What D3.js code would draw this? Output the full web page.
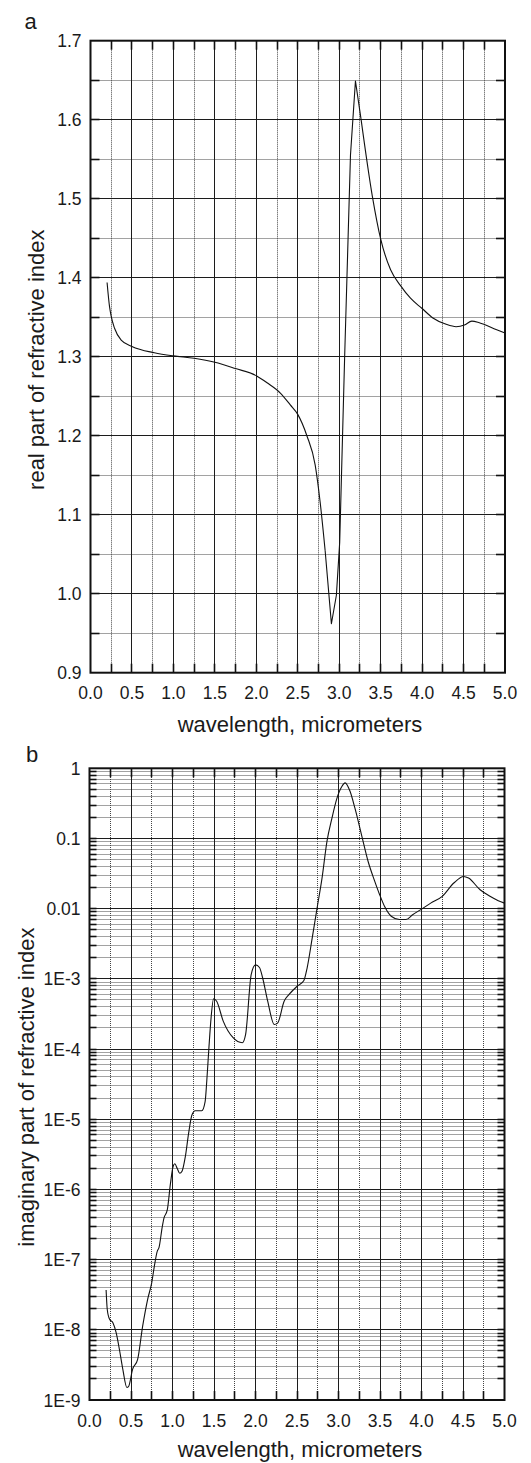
<!DOCTYPE html>
<html><head><meta charset="utf-8">
<script src="https://cdn.jsdelivr.net/npm/d3@7"></script>
<style>
body{margin:0;background:#fff}
svg{display:block}
text{font-family:"Liberation Sans",Arial,Helvetica,sans-serif;fill:#1a1a1a}
</style>
</head><body>
<svg id="c" width="531" height="1463"></svg>
<script>
// ---------- data ----------
const wavelengthTicks = [0,0.5,1,1.5,2,2.5,3,3.5,4,4.5,5];
const wavelengthTickLabels = ["0.0","0.5","1.0","1.5","2.0","2.5","3.0","3.5","4.0","4.5","5.0"];
const realTicks = [0.9,1.0,1.1,1.2,1.3,1.4,1.5,1.6,1.7];
const realTickLabels = ["0.9","1.0","1.1","1.2","1.3","1.4","1.5","1.6","1.7"];
const imagTicks = [1e-9,1e-8,1e-7,1e-6,1e-5,1e-4,1e-3,1e-2,1e-1,1];
const imagTickLabels = ["1E-9","1E-8","1E-7","1E-6","1E-5","1E-4","1E-3","0.01","0.1","1"];

const realWavelength = [0.2,0.23,0.25,0.29,0.37,0.5,0.77,1.0,1.25,1.5,1.75,2.0,2.13,2.29,2.41,2.5,2.61,2.71,2.77,2.83,2.906,2.966,3.006,3.065,3.136,3.196,3.263,3.40,3.5,3.62,3.74,3.86,4.0,4.13,4.29,4.41,4.51,4.6,4.69,4.9,5.0];
const realIndex = [1.394,1.363,1.351,1.336,1.321,1.313,1.305,1.301,1.298,1.293,1.285,1.276,1.267,1.254,1.239,1.227,1.200,1.163,1.116,1.055,0.962,0.998,1.065,1.297,1.555,1.649,1.601,1.503,1.449,1.410,1.390,1.374,1.361,1.349,1.341,1.338,1.340,1.345,1.343,1.334,1.330];
// the absorption band (2.83–3.26 µm) is drawn as straight segments, like the reference
const realSharpFrom = 2.83, realSharpTo = 3.263;

const imagWavelength = [0.2,0.214,0.242,0.282,0.321,0.361,0.401,0.45,0.47,0.52,0.58,0.64,0.70,0.75,0.78,0.817,0.837,0.877,0.897,0.937,0.976,1.008,1.028,1.056,1.087,1.115,1.155,1.194,1.234,1.274,1.353,1.393,1.413,1.44,1.465,1.495,1.532,1.611,1.73,1.841,1.881,1.948,2.0,2.048,2.087,2.147,2.226,2.266,2.345,2.405,2.504,2.583,2.623,2.683,2.742,2.802,2.861,2.921,2.98,3.04,3.079,3.139,3.198,3.278,3.357,3.437,3.496,3.556,3.635,3.734,3.813,3.893,3.992,4.111,4.25,4.389,4.508,4.567,4.706,4.825,4.925,5.0];
const imagIndex = [3.7e-8,1.95e-8,1.41e-8,1.26e-8,9.1e-9,5.2e-9,2.75e-9,1.51e-9,1.55e-9,2.75e-9,3.8e-9,1.12e-8,2.7e-8,4.7e-8,7.9e-8,1.32e-7,1.48e-7,2.95e-7,3.9e-7,5.1e-7,1.23e-6,2.14e-6,2.32e-6,2.0e-6,1.7e-6,1.82e-6,2.95e-6,6.3e-6,1.15e-5,1.32e-5,1.32e-5,1.78e-5,3.5e-5,1.1e-4,2.8e-4,5.2e-4,4.8e-4,2.5e-4,1.45e-4,1.23e-4,1.62e-4,1.15e-3,1.58e-3,1.45e-3,1.02e-3,4.8e-4,2.24e-4,2.34e-4,4.8e-4,6.0e-4,7.9e-4,9.5e-4,1.45e-3,3.8e-3,1.02e-2,2.75e-2,9.1e-2,0.195,0.37,0.55,0.62,0.47,0.27,0.112,0.047,0.0245,0.0158,0.0107,0.0078,0.007,0.007,0.0082,0.0097,0.012,0.015,0.0232,0.0288,0.0273,0.0186,0.015,0.013,0.012];

// ---------- drawing ----------
const svg = d3.select("#c");
const GRID = "#1c1c1c", MINOR = "#444", FRAME = "#111";
const snap = v => Math.round(v - 0.5) + 0.5;

function panel(o){
  const g = svg.append("g");
  const x = o.x, y = o.y;
  const [x0,x1] = x.range(), [y0,y1] = y.range(); // y0 bottom, y1 top
  // minor grid
  o.minorX.forEach(v=>g.append("line").attr("x1",snap(x(v))).attr("x2",snap(x(v))).attr("y1",y0).attr("y2",y1)
      .attr("stroke",MINOR).attr("stroke-width",1).attr("stroke-dasharray","1,1"));
  o.minorY.forEach(v=>g.append("line").attr("y1",snap(y(v))).attr("y2",snap(y(v))).attr("x1",x0).attr("x2",x1)
      .attr("stroke",MINOR).attr("stroke-width",1).attr("stroke-dasharray","1,1"));
  // major grid
  o.majorX.forEach(v=>g.append("line").attr("x1",snap(x(v))).attr("x2",snap(x(v))).attr("y1",y0).attr("y2",y1)
      .attr("stroke",GRID).attr("stroke-width",1));
  o.majorY.forEach(v=>g.append("line").attr("y1",snap(y(v))).attr("y2",snap(y(v))).attr("x1",x0).attr("x2",x1)
      .attr("stroke",GRID).attr("stroke-width",1));
  // inward ticks
  const tl = 9;
  o.tickX.forEach(v=>{
    const px = snap(x(v));
    g.append("line").attr("x1",px).attr("x2",px).attr("y1",y0).attr("y2",y0-tl).attr("stroke",FRAME).attr("stroke-width",1.6);
    g.append("line").attr("x1",px).attr("x2",px).attr("y1",y1).attr("y2",y1+tl).attr("stroke",FRAME).attr("stroke-width",1.6);
  });
  o.tickY.forEach(v=>{
    const py = snap(y(v));
    g.append("line").attr("y1",py).attr("y2",py).attr("x1",x0).attr("x2",x0+o.tickYLen).attr("stroke",FRAME).attr("stroke-width",1.6);
    g.append("line").attr("y1",py).attr("y2",py).attr("x1",x1).attr("x2",x1-o.tickYLen).attr("stroke",FRAME).attr("stroke-width",1.6);
  });
  // curve segments
  o.segments.forEach(seg=>{
    g.append("path").datum(seg.data)
      .attr("d", d3.line().x(d=>x(d[0])).y(d=>y(d[1])).curve(seg.curve))
      .attr("fill","none").attr("stroke","#111").attr("stroke-width",1.1)
      .attr("stroke-linejoin","round");
  });
  // frame
  g.append("rect").attr("x",x0).attr("y",y1).attr("width",x1-x0).attr("height",y0-y1)
    .attr("fill","none").attr("stroke",FRAME).attr("stroke-width",2);
  // tick labels
  wavelengthTicks.forEach((v,i)=>g.append("text").attr("x",x(v)).attr("y",y0+26.5)
      .attr("text-anchor","middle").attr("font-size",17.5).text(wavelengthTickLabels[i]));
  o.yTicks.forEach((v,i)=>g.append("text").attr("x",x0-9).attr("y",y(v)+6.5)
      .attr("text-anchor","end").attr("font-size",17.5).text(o.yLabels[i]));
  // titles
  g.append("text").attr("x",300).attr("y",y0+o.xTitleOff).attr("text-anchor","middle")
    .attr("font-size",22).text("wavelength, micrometers");
  g.append("text").attr("transform",`translate(${o.yTitleX},${(y0+y1)/2+3}) rotate(-90)`)
    .attr("text-anchor","middle").attr("font-size",22).text(o.yTitle);
  g.append("text").attr("x",o.panelX).attr("y",o.panelY).attr("font-size",22).text(o.panel);
}

const quarter = d3.range(0.25,5,0.5);
const halfMajor = d3.range(0.5,5,0.5);
const allQuarter = d3.range(0.25,5,0.25);

// panel a
const xa = d3.scaleLinear().domain([0,5]).range([90.5,505]);
const ya = d3.scaleLinear().domain([0.9,1.7]).range([672.7,40.7]);
const realPts = realWavelength.map((w,i)=>[w,realIndex[i]]);
panel({
  x:xa, y:ya,
  minorX: quarter, majorX: halfMajor,
  minorY: d3.range(0,8).map(i=>+(0.95+i*0.1).toFixed(2)),
  majorY: realTicks.slice(1,-1),
  tickX: allQuarter,
  tickY: d3.range(1,16).map(i=>+(0.9+i*0.05).toFixed(2)),
  tickYLen: 9,
  segments: [
    {data: realPts.filter(d=>d[0]<=realSharpFrom), curve: d3.curveMonotoneX},
    {data: realPts.filter(d=>d[0]>=realSharpFrom && d[0]<=realSharpTo), curve: d3.curveLinear},
    {data: realPts.filter(d=>d[0]>=realSharpTo), curve: d3.curveMonotoneX}
  ],
  yTicks: realTicks, yLabels: realTickLabels,
  xTitleOff: 59, yTitleX: 43.5, yTitle: "real part of refractive index",
  panel: "a", panelX: 24.5, panelY: 28.5
});

// panel b
const xb = d3.scaleLinear().domain([0,5]).range([89.5,504.5]);
const yb = d3.scaleLog().domain([1e-9,1]).range([1400,768.3]);
const logMinor = [];
for (let d=-9; d<0; d++) for (let k=2;k<=9;k++) logMinor.push(k*Math.pow(10,d));
panel({
  x:xb, y:yb,
  minorX: quarter, majorX: halfMajor,
  minorY: logMinor,
  majorY: imagTicks.slice(1,-1),
  tickX: allQuarter,
  tickY: logMinor.concat(imagTicks.slice(1,-1)),
  tickYLen: 7,
  segments: [{data: imagWavelength.map((w,i)=>[w,imagIndex[i]]), curve: d3.curveMonotoneX}],
  yTicks: imagTicks, yLabels: imagTickLabels,
  xTitleOff: 56.7, yTitleX: 33.5, yTitle: "imaginary part of refractive index",
  panel: "b", panelX: 26, panelY: 761.5
});
</script>
</body></html>
